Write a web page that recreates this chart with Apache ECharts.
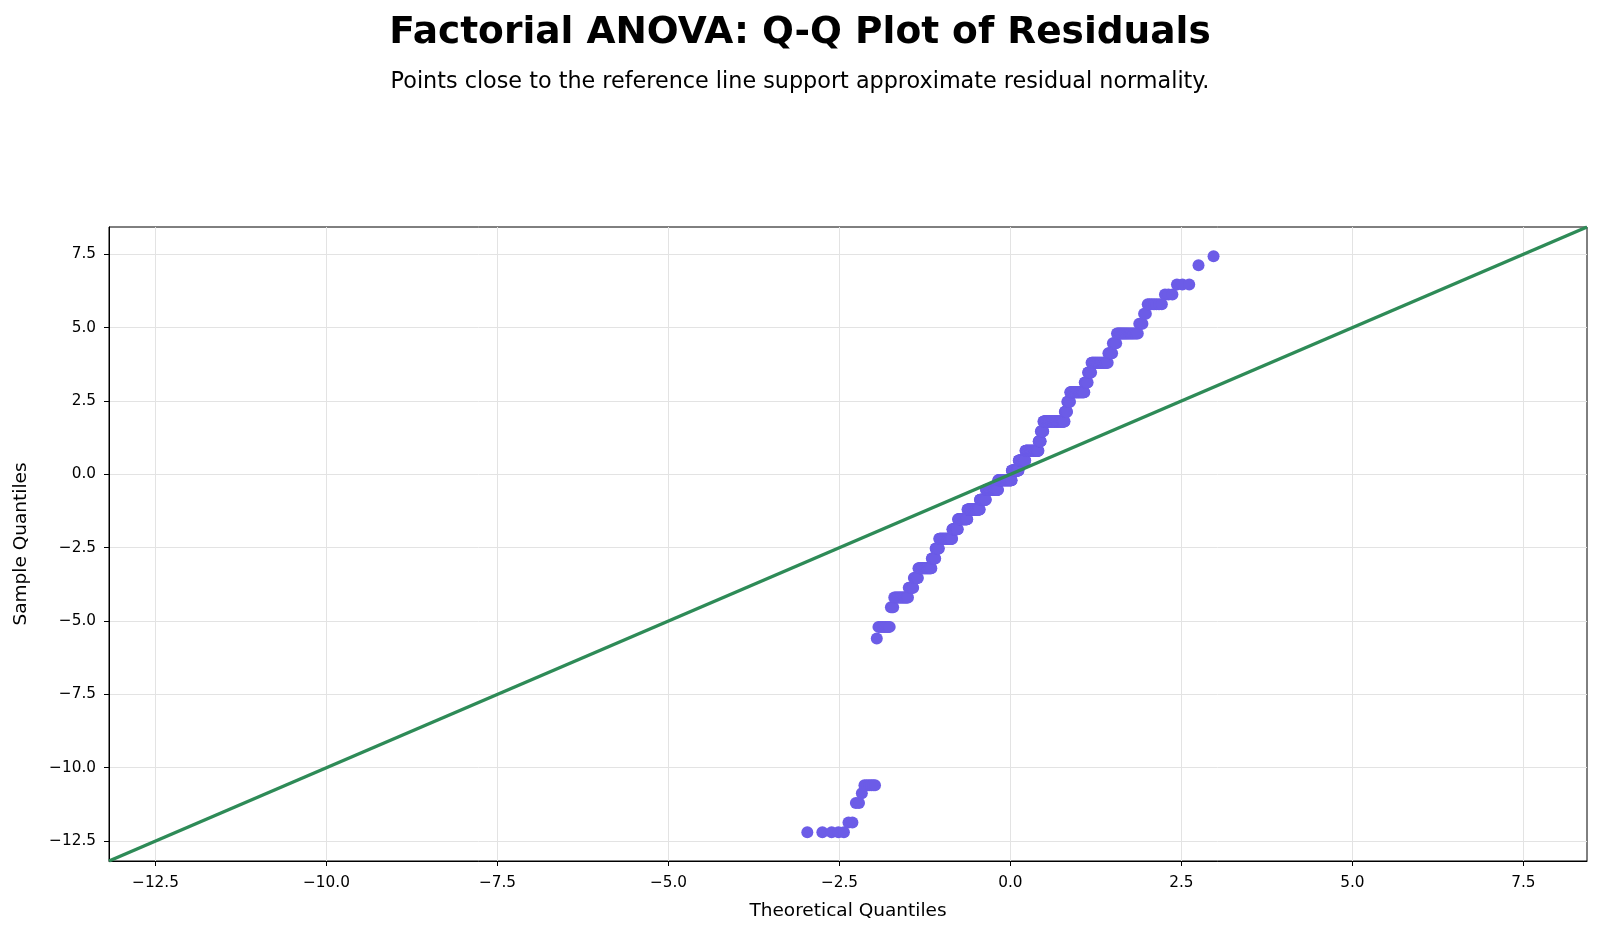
<!DOCTYPE html>
<html>
<head>
<meta charset="utf-8">
<title>Factorial ANOVA: Q-Q Plot of Residuals</title>
<script src="https://cdn.jsdelivr.net/npm/echarts@6/dist/echarts.min.js"></script>
<style>
  html, body { margin: 0; padding: 0; background: #fff; }
  #chart { width: 1600px; height: 932px; }
</style>
</head>
<body>
<div id="chart"></div>
<script>
// 残差的取值（从小到大）和每个取值出现的次数，从图上读出来的
const residualLevels = [
  -12.2, -11.87, -11.2, -10.87, -10.6,
  -5.6, -5.2, -4.53, -4.2, -3.87, -3.53, -3.2, -2.87, -2.53, -2.2,
  -1.87, -1.53, -1.2, -0.87, -0.53, -0.2, 0.13, 0.47, 0.8, 1.13, 1.47,
  1.8, 2.13, 2.47, 2.8, 3.13, 3.47, 3.8, 4.13, 4.47, 4.8, 5.13, 5.47,
  5.8, 6.13, 6.47, 7.13, 7.43
]
const residualCounts = [
  5, 2, 2, 1, 6,
  1, 9, 3, 16, 7, 7, 24, 8, 8, 33,
  16, 29, 42, 22, 46, 53, 27, 26, 49, 8, 9,
  68, 7, 8, 35, 7, 7, 28, 6, 5, 20, 3, 2,
  7, 3, 3, 1, 1
]

// 45 度参考线的两端（同时也是两个轴的范围）
const lineEnds = [-13.18, 8.43]
const tickValues = [-12.5, -10, -7.5, -5, -2.5, 0, 2.5, 5, 7.5]

// 标准正态分布的分位数 (Acklam 近似)
const normInv = (p) => {
  const a = [-3.969683028665376e+01, 2.209460984245205e+02, -2.759285104469687e+02, 1.383577518672690e+02, -3.066479806614716e+01, 2.506628277459239e+00]
  const b = [-5.447609879822406e+01, 1.615858368580409e+02, -1.556989798598866e+02, 6.680131188771972e+01, -1.328068155288572e+01]
  const c = [-7.784894002430293e-03, -3.223964580411365e-01, -2.400758277161838e+00, -2.549732539343734e+00, 4.374664141464968e+00, 2.938163982698783e+00]
  const d = [7.784695709041462e-03, 3.224671290700398e-01, 2.445134137142996e+00, 3.754408661907416e+00]
  const pl = 0.02425
  if (p < pl) {
    const q = Math.sqrt(-2 * Math.log(p))
    return (((((c[0] * q + c[1]) * q + c[2]) * q + c[3]) * q + c[4]) * q + c[5]) / ((((d[0] * q + d[1]) * q + d[2]) * q + d[3]) * q + 1)
  }
  if (p <= 1 - pl) {
    const q = p - 0.5
    const r = q * q
    return (((((a[0] * r + a[1]) * r + a[2]) * r + a[3]) * r + a[4]) * r + a[5]) * q / (((((b[0] * r + b[1]) * r + b[2]) * r + b[3]) * r + b[4]) * r + 1)
  }
  const q = Math.sqrt(-2 * Math.log(1 - p))
  return -(((((c[0] * q + c[1]) * q + c[2]) * q + c[3]) * q + c[4]) * q + c[5]) / ((((d[0] * q + d[1]) * q + d[2]) * q + d[3]) * q + 1)
}

// 展开成排好序的样本，再配上理论分位数 i/(n+1)
const sample = []
residualLevels.forEach((v, k) => {
  for (let j = 0; j < residualCounts[k]; j++) sample.push(v)
})
const n = sample.length
const qqPoints = sample.map((v, i) => [normInv((i + 1) / (n + 1)), v])

const fontFamily = 'DejaVu Sans'
const fmt = (v) => v.toFixed(1).replace('-', '\u2212')

const axisCommon = {
  type: 'value',
  min: lineEnds[0],
  max: lineEnds[1],
  nameLocation: 'middle',
  nameTextStyle: { fontFamily, fontSize: 18.5, color: '#000' },
  axisLine: { show: true, onZero: false, lineStyle: { color: '#000', width: 1 } },
  axisTick: { show: true, length: 5, customValues: tickValues, lineStyle: { color: '#000', width: 1 } },
  axisLabel: { customValues: tickValues, formatter: fmt, fontFamily, fontSize: 15.3, color: '#000' },
  splitLine: { show: true, lineStyle: { color: '#e3e3e3', width: 1 } }
}

const chart = echarts.init(document.getElementById('chart'))
chart.setOption({
  animation: false,
  backgroundColor: '#fff',
  title: [
    {
      text: 'Factorial ANOVA: Q-Q Plot of Residuals',
      left: 'center',
      top: 9,
      textStyle: { fontFamily, fontSize: 37.5, fontWeight: 'bold', color: '#000' }
    },
    {
      text: 'Points close to the reference line support approximate residual normality.',
      left: 'center',
      top: 66,
      textStyle: { fontFamily, fontSize: 22.3, fontWeight: 'normal', color: '#000' }
    }
  ],
  grid: {
    left: 109,
    right: 13,
    top: 227,
    bottom: 71,
    show: true,
    borderColor: '#000',
    borderWidth: 1,
    backgroundColor: 'transparent'
  },
  xAxis: {
    ...axisCommon,
    name: 'Theoretical Quantiles',
    nameGap: 41,
    axisLabel: { ...axisCommon.axisLabel, margin: 15 }
  },
  yAxis: {
    ...axisCommon,
    name: 'Sample Quantiles',
    nameGap: 78,
    axisLabel: { ...axisCommon.axisLabel, margin: 13 }
  },
  series: [
    {
      type: 'scatter',
      data: qqPoints,
      symbolSize: 12,
      itemStyle: { color: '#6c5ce7', opacity: 1 },
      z: 2
    },
    {
      type: 'line',
      data: [[lineEnds[0], lineEnds[0]], [lineEnds[1], lineEnds[1]]],
      symbol: 'none',
      lineStyle: { color: '#2e8b57', width: 3.5 },
      z: 3
    }
  ]
})
</script>
</body>
</html>
